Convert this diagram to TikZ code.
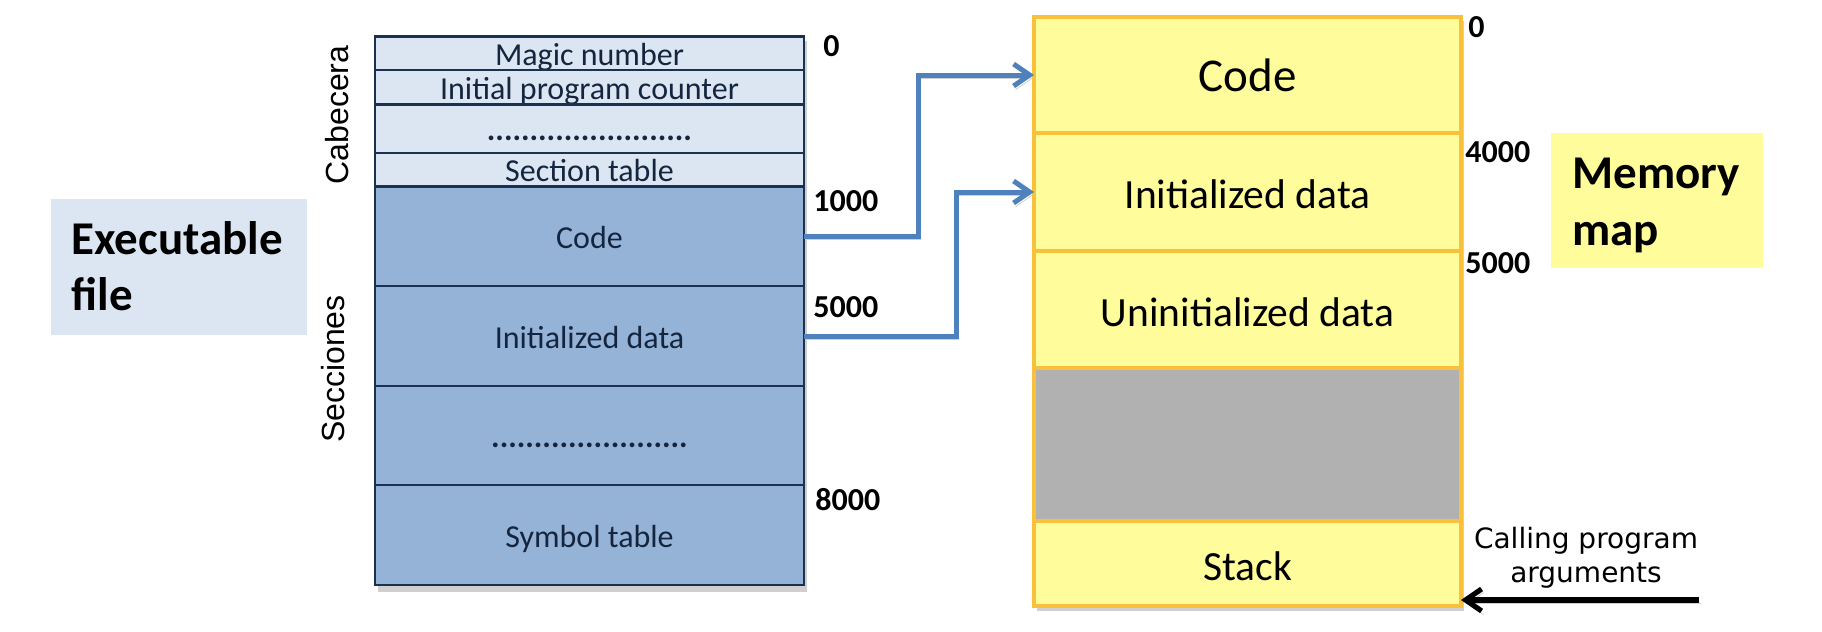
\documentclass[tikz,border=0pt]{standalone}
\usepackage{fontspec}
\setmainfont{Carlito}
\newfontfamily\arialf{Liberation Sans}
\newfontfamily\callf{DejaVu Sans}
\usetikzlibrary{arrows.meta,fit,calc}
\definecolor{hdrfill}{HTML}{DCE6F2}
\definecolor{secfill}{HTML}{95B3D7}
\definecolor{navy}{HTML}{1B3152}
\definecolor{navytext}{HTML}{14263F}
\definecolor{yfill}{HTML}{FFFD9B}
\definecolor{ybord}{HTML}{F9C03C}
\definecolor{grayfill}{HTML}{B1B1B1}
\definecolor{arrowblue}{HTML}{4F81BD}
\definecolor{shadowgray}{HTML}{CFCFCF}
\begin{document}
\begin{tikzpicture}[x=0.5pt,y=-0.5pt,
  lcell/.style={draw=navy, line width=1.3pt, inner sep=0pt, outer sep=0pt,
    minimum width=214.5pt, text=navytext, font=\fontsize{16}{19}\selectfont,
    text height=12pt, text depth=0pt},
  hcell/.style={lcell, fill=hdrfill},
  scell/.style={lcell, fill=secfill},
  mcell/.style={draw=ybord, line width=1.8pt, fill=yfill, inner sep=0pt, outer sep=0pt,
    minimum width=213.5pt, font=\fontsize{20.75}{24}\selectfont, text height=16.5pt, text depth=0pt},
  gcell/.style={mcell, fill=grayfill},
  addr/.style={anchor=west, inner sep=0pt, font=\bfseries\fontsize{16}{19}\selectfont},
  side/.style={rotate=90, anchor=base, inner sep=0pt, font=\arialf\fontsize{16}{19}\selectfont},
  title/.style={anchor=base west, inner sep=0pt, font=\bfseries\fontsize{23.5}{28}\selectfont},
  note/.style={anchor=base, inner sep=0pt, font=\callf\fontsize{14}{17}\selectfont},
  shadowed/.style={preaction={draw=shadowgray, transform canvas={shift={(1pt,-1.8pt)}}}},
  bluearrow/.style={draw=arrowblue, line width=2.5pt, -{Straight Barb[length=8pt,width=11pt]}, shadowed},
  blackarrow/.style={draw=black, line width=2.6pt, -{Straight Barb[length=8pt,width=11pt]}, shadowed}
]
\useasboundingbox (0,0) rectangle (1822,632);

% shadows of the two columns
\fill[shadowgray] (378,41) rectangle (807,592);
\fill[shadowgray] (1037,21) rectangle (1464,611);

% Executable file label box
\node[fit={(51,199)(307,335)}, inner sep=0pt, fill=hdrfill] (exe) {};
\node[title] (exe1) at (71,254) {Executable};
\node[title] (exe2) at (71,310.5) {file};

% left table: header
\node[hcell, minimum height=16.75pt] (h1) at (589.5,53.25) {Magic number};
\node[hcell, minimum height=17.25pt] (h2) at (589.5,87.25) {Initial program counter};
\node[hcell, minimum height=24.25pt] (h3) at (589.5,128.75) {\textbf{........................}};
\node[hcell, minimum height=16.75pt] (h4) at (589.5,169.75) {Section table};
% left table: sections
\node[scell, minimum height=49.75pt] (s1) at (589.5,236.25) {Code};
\node[scell, minimum height=50pt] (s2) at (589.5,336) {Initialized data};
\node[scell, minimum height=49.5pt] (s3) at (589.5,435.5) {\textbf{.......................}};
\node[scell, minimum height=50pt] (s4) at (589.5,535) {Symbol table};

\node[side] (cab) at (348,115) {Cabecera};
\node[side] (sec) at (344,369) {Secciones};

\node[addr] (a0) at (823,46.5) {0};
\node[addr] (a1000) at (813,201) {1000};
\node[addr] (a5000) at (813,307) {5000};
\node[addr] (a8000) at (815,500) {8000};

% memory map column
\node[mcell, minimum height=58pt, font=\fontsize{23.5}{28}\selectfont] (m1) at (1247.5,75) {Code};
\node[mcell, minimum height=59pt] (m2) at (1247.5,192) {Initialized data};
\node[mcell, minimum height=58.5pt] (m3) at (1247.5,309.5) {Uninitialized data};
\node[gcell, minimum height=76.5pt] (m4) at (1247.5,444.5) {};
\node[mcell, minimum height=42.5pt] (m5) at (1247.5,563.5) {Stack};

\node[addr] (b0) at (1468,27.5) {0};
\node[addr] (b4000) at (1465,152) {4000};
\node[addr] (b5000) at (1465,263) {5000};

% Memory map label box
\node[fit={(1551,133)(1763,268)}, inner sep=0pt, fill=yfill] (mm) {};
\node[title] (mm1) at (1572,188) {Memory};
\node[title] (mm2) at (1572,245) {map};

% calling program arguments
\node[note] (call1) at (1586,548) {Calling program};
\node[note] (call2) at (1586,582) {arguments};

% connectors
\draw[bluearrow] (s1.east) -- ++(114,0) |- (m1.west);
\draw[bluearrow] (s2.east) -- ++(152,0) |- (m2.west);
\coordinate (argsrc) at (1699,600);
\draw[blackarrow] (argsrc) -- (argsrc -| m5.east);
\end{tikzpicture}
\end{document}
